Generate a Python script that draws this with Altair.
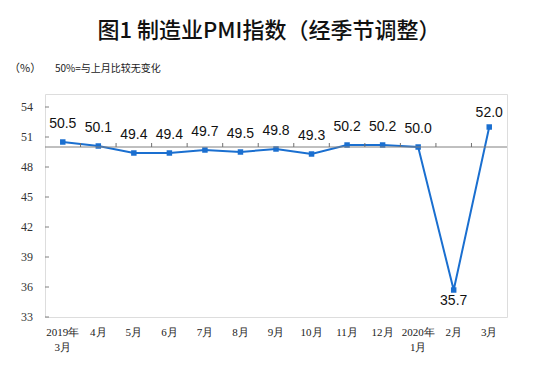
import altair as alt
import pandas as pd

months = ["2019年|3月", "4月", "5月", "6月", "7月", "8月", "9月", "10月",
          "11月", "12月", "2020年|1月", "2月", "3月"]
pmi = [50.5, 50.1, 49.4, 49.4, 49.7, 49.5, 49.8, 49.3, 50.2, 50.2, 50.0, 35.7, 52.0]
y_ticks = [33, 36, 39, 42, 45, 48, 51, 54]

df = pd.DataFrame({"month": months, "pmi": pmi})
df["label"] = df["pmi"].map(lambda v: f"{v:.1f}")
ticks_df = pd.DataFrame({"month": months[1:]})
yt_df = pd.DataFrame({"v": y_ticks})
yt_df["t"] = yt_df["v"].astype(str)

W, H = 462, 223
band = W / len(months)
blue = "#1a6fd0"
serif = "Liberation Serif"

xaxis = alt.Axis(title=None, labelAngle=0, ticks=False, domain=False,
                 labelExpr="split(datum.label, '|')", labelFont=serif,
                 labelFontSize=11, labelColor="#222", labelPadding=9,
                 labelLineHeight=15, labelAlign="center")
yaxis = alt.Axis(title=None, labels=False, ticks=False, domain=False, grid=False)
xscale = alt.Scale(paddingInner=0, paddingOuter=0)
yscale = alt.Scale(domain=[33, 55.3], nice=False, zero=False)

xenc = alt.X("month:N", sort=months, scale=xscale, axis=xaxis)
yenc = alt.Y("pmi:Q", scale=yscale, axis=yaxis)

base = alt.Chart(df)

line = base.mark_line(color=blue, strokeWidth=2).encode(x=xenc, y=yenc)
pts = base.mark_square(color=blue, size=30, opacity=1).encode(x=xenc, y=yenc)
ref = alt.Chart(pd.DataFrame({"v": [50]})).mark_rule(color="#808080", strokeWidth=1).encode(
    y=alt.Y("v:Q", scale=yscale, axis=yaxis))
xt = alt.Chart(ticks_df).mark_rule(color="#707070", strokeWidth=1,
                                   xOffset=-band / 2, y2Offset=-4).encode(
    x=alt.X("month:N", sort=months, scale=xscale, axis=xaxis),
    y=alt.datum(50), y2=alt.datum(50))
yt = alt.Chart(yt_df).mark_rule(color="#808080", strokeWidth=1).encode(
    x=alt.value(0), x2=alt.value(4), y=alt.Y("v:Q", scale=yscale, axis=yaxis))
ylab = alt.Chart(yt_df).mark_text(font=serif, fontSize=12, color="#333",
                                  align="right", baseline="middle").encode(
    x=alt.value(-12), y=alt.Y("v:Q", scale=yscale, axis=yaxis), text="t:N")

lab_up = base.transform_filter("datum.pmi > 40 && datum.pmi < 51").mark_text(
    font="Liberation Sans", fontSize=14, color="#111", dy=-18).encode(
    x=xenc, y=yenc, text="label:N")
lab_top = base.transform_filter("datum.pmi >= 51").mark_text(
    font="Liberation Sans", fontSize=14, color="#111", dy=-14).encode(
    x=xenc, y=yenc, text="label:N")
lab_down = base.transform_filter("datum.pmi < 40").mark_text(
    font="Liberation Sans", fontSize=14, color="#111", dy=11).encode(
    x=xenc, y=yenc, text="label:N")

title = alt.Chart(pd.DataFrame({"t": ["图1 制造业PMI指数（经季节调整）"]})).mark_text(
    font="Noto Sans CJK SC", fontSize=22, fontWeight=500, color="#111",
    baseline="middle", align="center").encode(
    x=alt.value(224), y=alt.value(-63), text="t:N")
unit = alt.Chart(pd.DataFrame({"t": ["（%）"]})).mark_text(
    font="Noto Sans CJK SC", fontSize=11, color="#222", align="left", baseline="middle").encode(
    x=alt.value(-36), y=alt.value(-25), text="t:N")
note = alt.Chart(pd.DataFrame({"t": ["50%=与上月比较无变化"]})).mark_text(
    font="Noto Sans CJK SC", fontSize=10, color="#222", align="left", baseline="middle").encode(
    x=alt.value(10), y=alt.value(-25), text="t:N")

chart = alt.layer(line, pts, ref, xt, yt, ylab, lab_up, lab_top, lab_down,
                  title, unit, note).properties(
    width=W, height=H,
    autosize=alt.AutoSizeParams(type="none"),
    padding={"left": 37, "top": 86, "right": 20, "bottom": 40},
).configure_view(stroke="#808080", strokeWidth=1).configure(background="white")

chart.save("out.html", embed_options={"renderer": "svg", "actions": False})
